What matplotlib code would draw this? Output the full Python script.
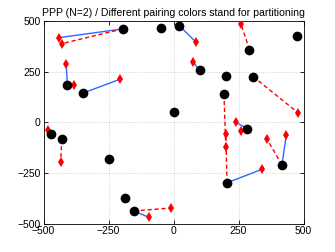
import matplotlib
matplotlib.use("Agg")
import matplotlib.pyplot as plt
import numpy as np

# node positions (black = transmitters, red = receivers)
black_x = [-195, -49, 22, 476, 292, -408, -347, 101, 203, 306,
           194, 3, -471, -430, 282, 417, -247, 206, -188, -153]
black_y = [463, 466, 479, 430, 360, 184, 146, 258, 232, 227,
           141, 50, -55, -83, -30, -210, -182, -298, -372, -438]
red_x = [-439, -430, 87, 260, -413, -383, -206, 74, 478, -481,
         -434, 241, 260, 201, 201, 434, 360, 340, -95, -8]
red_y = [420, 390, 397, 486, 291, 187, 214, 301, 49, -35,
         -194, 0, -40, -55, -120, -60, -83, -232, -469, -423]

# (black index, red index) pairings for each partition
blue_pairs = [(0, 0), (2, 2), (7, 7), (5, 4), (6, 6), (14, 11),
              (17, 17), (15, 15), (19, 18)]
red_pairs = [(0, 1), (4, 3), (9, 8), (10, 14), (17, 13), (15, 16),
             (13, 10), (19, 19), (5, 5), (14, 12), (12, 9)]

title = "PPP (N=2) / Different pairing colors stand for partitioning"
ticks = [-500, -250, 0, 250, 500]

plt.rcParams['font.family'] = ['Liberation Sans', 'DejaVu Sans']

fig = plt.figure(figsize=(3.35, 2.52), dpi=100)
ax = fig.add_axes([0.13, 0.113, 0.776, 0.802])

for b, r in blue_pairs:
    ax.plot([black_x[b], red_x[r]], [black_y[b], red_y[r]], '-',
            color='#3366ff', lw=1.0, zorder=2)
for b, r in red_pairs:
    ax.plot([black_x[b], red_x[r]], [black_y[b], red_y[r]], '--',
            color='red', lw=1.0, dashes=(3, 2), zorder=2)

ax.plot(red_x, red_y, 'd', color='red', ms=5, mew=0, zorder=3)
ax.plot(black_x, black_y, 'o', color='black', ms=7, mew=0, zorder=4)

ax.set_xlim(-500, 500)
ax.set_ylim(-500, 500)
ax.set_xticks(ticks)
ax.set_yticks(ticks)
ax.tick_params(direction='in', length=3, labelsize=7.5, width=0.6,
               top=True, right=True, pad=2)
ax.grid(True, linestyle=':', color='#c8c8c8', lw=0.6)
for s in ax.spines.values():
    s.set_linewidth(0.6)
ax.set_title(title, fontsize=7.6, pad=4)

fig.savefig("out.png", dpi=100)
